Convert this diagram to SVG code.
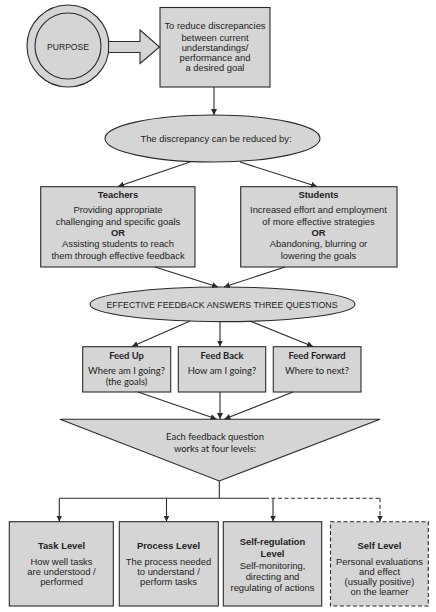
<svg xmlns="http://www.w3.org/2000/svg" width="436" height="612" viewBox="0 0 436 612">
<style>
.shape{fill:#d5d5d5;stroke:#2b2b2b;stroke-width:1.1}
.dash{stroke-dasharray:4 2.5}
.t{font-family:"Liberation Sans",Arial,sans-serif;font-size:9.4px;fill:#222;text-anchor:middle}
.b{font-weight:bold}
.m{font-family:Lato,"Open Sans",sans-serif;font-size:9.4px;fill:#222;text-anchor:middle}
.ln{fill:none;stroke:#2b2b2b;stroke-width:1.1}
</style>
<defs>
<marker id="ah" viewBox="0 0 10 10" refX="10" refY="5" markerWidth="6" markerHeight="6" markerUnits="userSpaceOnUse" orient="auto">
<path d="M0,0 L10,5 L0,10 z" fill="#2b2b2b"/>
</marker>
</defs>
<rect width="436" height="612" fill="#fff"/>

<g id="purpose">
<circle class="shape" cx="68" cy="46" r="41"/>
<circle class="shape" cx="68" cy="46" r="33"/>
<text class="t" x="68" y="49.5" style="font-size:8.6px">PURPOSE</text>
</g>

<g id="bigarrow">
<path class="shape" d="M108.5,41.5 H140 V30 L159.5,47 L140,63.5 V52.5 H108.5 z"/>
</g>

<g id="goal">
<rect class="shape" x="160" y="7.5" width="110" height="79.5"/>
<text class="t" x="215" y="29">To reduce discrepancies</text>
<text class="t" x="215" y="41">between current</text>
<text class="t" x="215" y="51">understandings/</text>
<text class="t" x="215" y="61">performance and</text>
<text class="t" x="215" y="71">a desired goal</text>
</g>

<g id="discrepancy">
<ellipse class="shape" cx="212.5" cy="138.5" rx="107.5" ry="23.5"/>
<text class="t" x="216" y="142.3">The discrepancy can be reduced by:</text>
</g>

<g id="teachers">
<rect class="shape" x="40.7" y="186.7" width="154.3" height="80.3"/>
<text class="t b" x="118" y="197.5">Teachers</text>
<text class="t" x="118" y="213.3">Providing appropriate</text>
<text class="t" x="118" y="225">challenging and specific goals</text>
<text class="t b" x="118" y="236">OR</text>
<text class="t" x="118" y="247.3">Assisting students to reach</text>
<text class="t" x="118" y="259">them through effective feedback</text>
</g>

<g id="students">
<rect class="shape" x="240.7" y="186.7" width="156.3" height="80.3"/>
<text class="t b" x="318.5" y="197.5">Students</text>
<text class="t" x="318.5" y="213.3">Increased effort and employment</text>
<text class="t" x="318.5" y="225">of more effective strategies</text>
<text class="t b" x="318.5" y="236">OR</text>
<text class="t" x="318.5" y="247.3">Abandoning, blurring or</text>
<text class="t" x="318.5" y="259">lowering the goals</text>
</g>

<g id="effective">
<ellipse class="shape" cx="222.5" cy="304.3" rx="132.5" ry="17.3"/>
<text class="t" x="222" y="308.2" style="font-size:8.8px">EFFECTIVE FEEDBACK ANSWERS THREE QUESTIONS</text>
</g>

<g id="feedup">
<rect class="shape" x="82.7" y="346.7" width="88" height="45.3"/>
<text class="m b" x="126.5" y="358.8">Feed Up</text>
<text class="m" x="126.5" y="374">Where am I going?</text>
<text class="m" x="126.5" y="385">(the goals)</text>
</g>

<g id="feedback">
<rect class="shape" x="178.3" y="346.7" width="87.4" height="45.3"/>
<text class="m b" x="222" y="358.8">Feed Back</text>
<text class="m" x="222" y="374">How am I going?</text>
</g>

<g id="feedforward">
<rect class="shape" x="273.3" y="346.7" width="87.7" height="45.3"/>
<text class="m b" x="317" y="358.8">Feed Forward</text>
<text class="m" x="317" y="374">Where to next?</text>
</g>

<g id="levels">
<path class="shape" d="M60,419.3 H380 L219.3,481 z"/>
<text class="m" x="215" y="440">Each feedback question</text>
<text class="m" x="215" y="451.7">works at four levels:</text>
</g>

<g id="task">
<rect class="shape" x="9.3" y="521.7" width="104" height="84.3"/>
<text class="t b" x="61.5" y="549">Task Level</text>
<text class="t" x="61.5" y="565">How well tasks</text>
<text class="t" x="61.5" y="575">are understood /</text>
<text class="t" x="61.5" y="585">performed</text>
</g>

<g id="process">
<rect class="shape" x="119.3" y="521.7" width="99" height="84.3"/>
<text class="t b" x="168.5" y="549">Process Level</text>
<text class="t" x="168.5" y="565">The process needed</text>
<text class="t" x="168.5" y="575">to understand /</text>
<text class="t" x="168.5" y="585">perform tasks</text>
</g>

<g id="selfregulation">
<rect class="shape" x="223.3" y="521.7" width="98.4" height="84.3"/>
<text class="t b" x="272.5" y="545">Self-regulation</text>
<text class="t b" x="272.5" y="556.7">Level</text>
<text class="t" x="272.5" y="569.3">Self-monitoring,</text>
<text class="t" x="272.5" y="580">directing and</text>
<text class="t" x="272.5" y="590.7">regulating of actions</text>
</g>

<g id="self">
<rect class="shape dash" x="330.5" y="521.7" width="97.8" height="84.3"/>
<text class="t b" x="379.5" y="549">Self Level</text>
<text class="t" x="379.5" y="565">Personal evaluations</text>
<text class="t" x="379.5" y="575">and effect</text>
<text class="t" x="379.5" y="585.3">(usually positive)</text>
<text class="t" x="379.5" y="595.3">on the learner</text>
</g>

<g id="connectors">
<line class="ln" x1="214" y1="87" x2="214" y2="115" marker-end="url(#ah)"/>
<line class="ln" x1="190" y1="162" x2="118" y2="186.5" marker-end="url(#ah)"/>
<line class="ln" x1="240" y1="162" x2="317" y2="186.5" marker-end="url(#ah)"/>
<line class="ln" x1="155" y1="267" x2="218" y2="287" marker-end="url(#ah)"/>
<line class="ln" x1="285" y1="267" x2="224" y2="287" marker-end="url(#ah)"/>
<line class="ln" x1="190" y1="321" x2="132" y2="346.5" marker-end="url(#ah)"/>
<line class="ln" x1="220" y1="321.6" x2="220" y2="346.5" marker-end="url(#ah)"/>
<line class="ln" x1="250" y1="321" x2="313" y2="346.5" marker-end="url(#ah)"/>
<line class="ln" x1="138" y1="392" x2="216.5" y2="419" marker-end="url(#ah)"/>
<line class="ln" x1="220" y1="392" x2="220" y2="419" marker-end="url(#ah)"/>
<line class="ln" x1="293" y1="392" x2="224.5" y2="419" marker-end="url(#ah)"/>
<line class="ln" x1="219.3" y1="481" x2="219.3" y2="498.3"/>
<line class="ln" x1="59.3" y1="498.3" x2="265" y2="498.3"/>
<line class="ln dash" x1="265" y1="498.3" x2="380" y2="498.3"/>
<line class="ln" x1="59.3" y1="498.3" x2="59.3" y2="521.5" marker-end="url(#ah)"/>
<line class="ln" x1="166.5" y1="498.3" x2="166.5" y2="521.5" marker-end="url(#ah)"/>
<line class="ln" x1="273" y1="498.3" x2="273" y2="521.5" marker-end="url(#ah)"/>
<line class="ln dash" x1="380" y1="498.3" x2="380" y2="521.5" marker-end="url(#ah)"/>
</g>
</svg>
